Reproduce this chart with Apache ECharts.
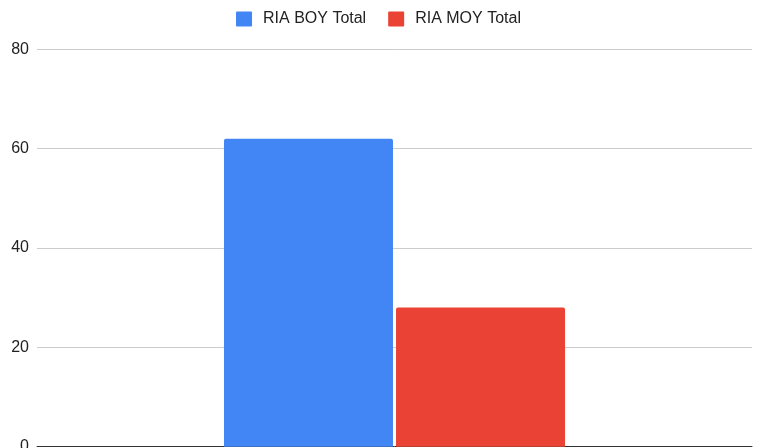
<!DOCTYPE html>
<html><head><meta charset="utf-8">
<script src="https://cdn.jsdelivr.net/npm/echarts@6/dist/echarts.min.js"></script>
<style>html,body{margin:0;padding:0;background:#fff}#c{width:757px;height:448px}</style>
</head><body><div id="c"></div>
<script>
const categories = [""];
const seriesNames = ["RIA BOY Total", "RIA MOY Total"];
const boyValues = [62];
const moyValues = [28];
const yTicks = { min: 0, max: 80, interval: 20 };
const colors = ["#4285F4", "#EA4335"];

const chart = echarts.init(document.getElementById('c'), null, {renderer: 'canvas'});
chart.setOption({
  animation: false,
  color: colors,
  textStyle: { fontFamily: 'Liberation Sans, Arial, sans-serif' },
  legend: {
    top: 6, left: 'center',
    itemWidth: 16, itemHeight: 15, itemGap: 22,
    icon: 'path://M1,0 H15 Q16,0 16,1 V14 Q16,15 15,15 H1 Q0,15 0,14 V1 Q0,0 1,0 Z',
    textStyle: { fontSize: 16, color: '#222', padding: [0, 0, 0, 6] },
    data: seriesNames
  },
  grid: { left: 37, right: 5, top: 49.3, bottom: 1.3, containLabel: false, outerBoundsMode: 'none' },
  xAxis: {
    type: 'category', data: categories,
    axisLine: { lineStyle: { color: '#333', width: 1 } },
    axisTick: { show: false }, axisLabel: { show: false }
  },
  yAxis: {
    type: 'value', min: yTicks.min, max: yTicks.max, interval: yTicks.interval,
    axisLine: { show: false }, axisTick: { show: false },
    axisLabel: { fontSize: 16, color: '#222', margin: 8 },
    splitLine: { lineStyle: { color: '#ccc' } }
  },
  series: [
    { name: seriesNames[0], type: 'bar', data: boyValues, barWidth: 169, barGap: '1.8%',
      itemStyle: { borderRadius: [2, 2, 0, 0] } },
    { name: seriesNames[1], type: 'bar', data: moyValues, barWidth: 169,
      itemStyle: { borderRadius: [2, 2, 0, 0] } }
  ]
});
</script></body></html>
